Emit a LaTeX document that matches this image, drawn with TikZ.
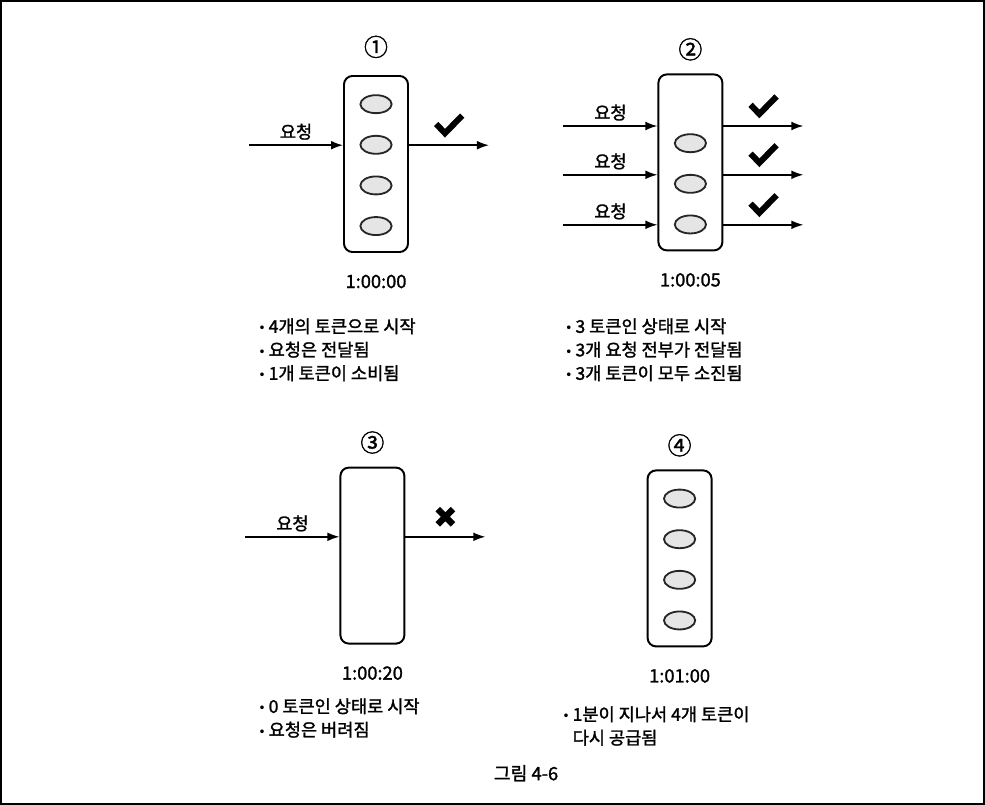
\documentclass[tikz,border=0pt]{standalone}
\usepackage{fontspec}
\setmainfont{Noto Sans CJK KR}[FakeBold=1.5]
\newfontfamily\symbolfont{DejaVu Sans}
\usetikzlibrary{arrows.meta, positioning, calc, shapes.geometric}
\newcommand{\tokbullet}{{\symbolfont\fontsize{9}{9}\selectfont•}\,}

\begin{document}
\begin{tikzpicture}[
		>={Latex[length=3mm, width=2.2mm]},
		font=\fontsize{12.5}{16.7}\selectfont,
		bucket/.style = {draw, rectangle, rounded corners=6pt, line width=1.4pt, minimum width=1.6cm, minimum height=4.4cm},
		token/.style = {draw=black!85, ellipse, line width=1.3pt, fill=gray!20, minimum width=0.78cm, minimum height=0.45cm, inner sep=0pt},
		flow/.style = {->, line width=1.1pt},
		stamp/.style = {font=\fontsize{17}{17}\selectfont},
		clock/.style = {font=\fontsize{13}{13}\selectfont},
		notes/.style = {anchor=north west, align=left, inner sep=0pt},
		okmark/.pic = {\draw [line width=4.3pt] (-0.32,0.03) -- (-0.1,-0.2) -- (0.33,0.24);},
		nomark/.pic = {\draw [line width=4.5pt] (-0.19,-0.19) -- (0.19,0.19) (-0.19,0.19) -- (0.19,-0.19);}
		]
		
		\useasboundingbox (0,0) rectangle (24.625,-20.125);
		\draw [line width=1.4pt] (0.025,-0.025) rectangle (24.6,-20.1);
		
		% 1
		\node [bucket] (b1) at (9.4,-4.1) {};
		\node [stamp, above=0.3cm of b1] (n1) {①};
		\node [token] (t12) at ($(b1)+(0,0.48)$) {};
		\node [token, above=0.52cm of t12] (t11) {};
		\node [token, below=0.52cm of t12] (t13) {};
		\node [token, below=0.52cm of t13] (t14) {};
		\node [clock, below=0.42cm of b1] (c1) {1:00:00};
		\coordinate (in1) at ($(b1.west)+(-2.35,0.47)$);
		\coordinate (out1) at ($(b1.east)+(2.0,0.47)$);
		\draw [flow] (in1) -- node[above] {요청} (in1 -| b1.west);
		\draw [flow] (out1 -| b1.east) -- (out1);
		\pic at ($(out1 -| b1.east)!0.5!(out1)+(0,0.5)$) {okmark};
		\node [notes] (s1) at (6.45,-7.95) {\tokbullet 4개의 토큰으로 시작\\\tokbullet 요청은 전달됨\\\tokbullet 1개 토큰이 소비됨};
		
		% 2
		\node [bucket] (b2) at (17.26,-4.06) {};
		\node [stamp, above=0.2cm of b2] (n2) {②};
		\node [token] (t22) at ($(b2)+(0,0.48)$) {};
		\node [token, below=0.52cm of t22] (t23) {};
		\node [token, below=0.52cm of t23] (t24) {};
		\node [clock, below=0.42cm of b2] (c2) {1:00:05};
		\coordinate (in2a) at ($(b2.west)+(-2.35,0.91)$);
		\coordinate (in2b) at ($(b2.west)+(-2.35,-0.31)$);
		\coordinate (in2c) at ($(b2.west)+(-2.35,-1.56)$);
		\coordinate (out2a) at ($(b2.east)+(2.0,0.91)$);
		\coordinate (out2b) at ($(b2.east)+(2.0,-0.31)$);
		\coordinate (out2c) at ($(b2.east)+(2.0,-1.56)$);
		\draw [flow] (in2a) -- node[above] {요청} (in2a -| b2.west);
		\draw [flow] (in2b) -- node[above] {요청} (in2b -| b2.west);
		\draw [flow] (in2c) -- node[above] {요청} (in2c -| b2.west);
		\draw [flow] (out2a -| b2.east) -- (out2a);
		\draw [flow] (out2b -| b2.east) -- (out2b);
		\draw [flow] (out2c -| b2.east) -- (out2c);
		\pic at ($(out2a -| b2.east)!0.5!(out2a)+(0,0.5)$) {okmark};
		\pic at ($(out2b -| b2.east)!0.5!(out2b)+(0,0.5)$) {okmark};
		\pic at ($(out2c -| b2.east)!0.5!(out2c)+(0,0.5)$) {okmark};
		\node [notes] (s2) at (14.12,-7.95) {\tokbullet 3 토큰인 상태로 시작\\\tokbullet 3개 요청 전부가 전달됨\\\tokbullet 3개 토큰이 모두 소진됨};
		
		% 3
		\node [bucket] (b3) at (9.31,-13.89) {};
		\node [stamp, above=0.2cm of b3] (n3) {③};
		\node [clock, below=0.42cm of b3] (c3) {1:00:20};
		\coordinate (in3) at ($(b3.west)+(-2.35,0.47)$);
		\coordinate (out3) at ($(b3.east)+(2.0,0.47)$);
		\draw [flow] (in3) -- node[above] {요청} (in3 -| b3.west);
		\draw [flow] (out3 -| b3.east) -- (out3);
		\pic at ($(out3 -| b3.east)!0.5!(out3)+(0,0.5)$) {nomark};
		\node [notes] (s3) at (6.45,-17.45) {\tokbullet 0 토큰인 상태로 시작\\\tokbullet 요청은 버려짐};
		
		% 4
		\node [bucket] (b4) at (16.99,-13.96) {};
		\node [stamp, above=0.2cm of b4] (n4) {④};
		\node [token] (t42) at ($(b4)+(0,0.48)$) {};
		\node [token, above=0.52cm of t42] (t41) {};
		\node [token, below=0.52cm of t42] (t43) {};
		\node [token, below=0.52cm of t43] (t44) {};
		\node [clock, below=0.42cm of b4] (c4) {1:01:00};
		\node [notes] (s4) at (14.05,-17.65) {\tokbullet 1분이 지나서 4개 토큰이\\\hphantom{\tokbullet}다시 공급됨};
		
		\node [font=\fontsize{13}{13}\selectfont] (fig) at (13.15,-19.33) {그림 4-6};
		
	\end{tikzpicture}
\end{document}
